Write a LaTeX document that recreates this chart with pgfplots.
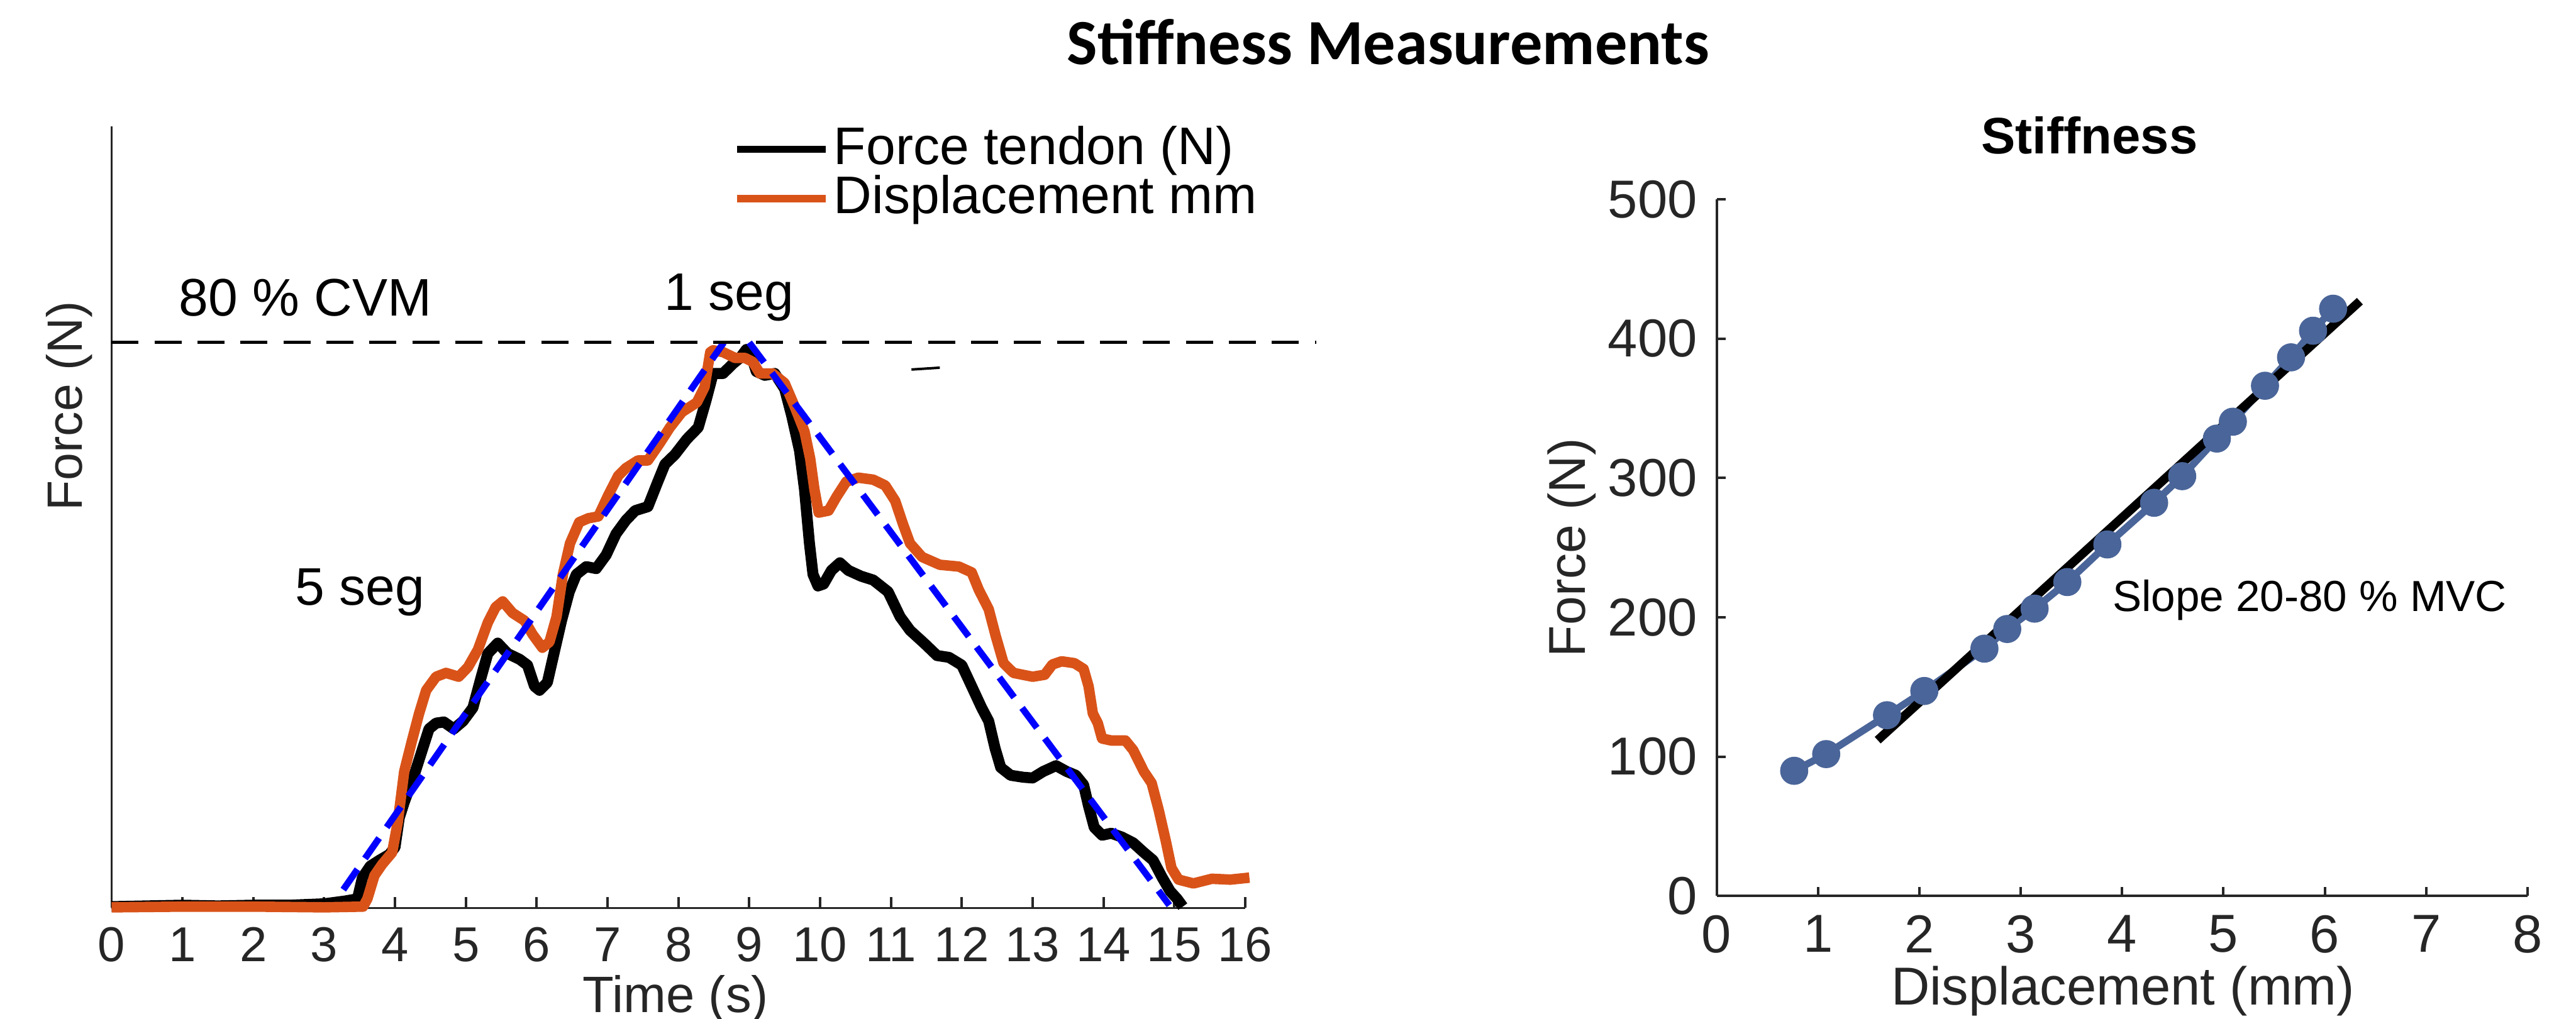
\documentclass[border=0pt]{standalone}
\usepackage{pgfplots}
\pgfplotsset{compat=1.18}
\usepackage{fontspec}
\setmainfont{Liberation Sans}
\newfontfamily\carlito{Carlito}
\definecolor{mgray}{rgb}{0.15,0.15,0.15}
\definecolor{morange}{rgb}{0.85,0.325,0.098}
\definecolor{mpts}{RGB}{74,101,153}
\newcommand{\fs}[1]{\fontsize{#1}{#1}\selectfont}
\begin{document}
\begin{tikzpicture}
\useasboundingbox (0,0) rectangle (467.6pt,185pt);
\node[anchor=base, inner sep=0, font=\carlito\bfseries\fs{11.7}] at (252pt,173.3pt) {Stiffness Measurements};

\begin{axis}[
  at={(20.26pt,20.1pt)}, anchor=south west,
  scale only axis, width=205.76pt, height=141.9pt,
  xmin=0, xmax=16, ymin=0, ymax=552.7,
  axis lines=left, axis line style={-, mgray, line width=0.45pt},
  xtick={0,1,...,16}, ytick=\empty,
  tick align=inside, major tick length=2pt,
  every tick/.style={mgray, line width=0.45pt},
  xticklabel style={font=\fs{8.9}, text=mgray},
  /pgf/number format/assume math mode=true,
  clip=false,
  legend style={draw=none, fill=none, at={(0.5475,1.004)}, anchor=north west,
    inner sep=0pt, column sep=0.6pt, row sep=0pt, font=\fs{9.6},
    nodes={inner sep=0.25pt, text=black}},
  legend cell align=left,
  legend image code/.code={\draw[#1, line width=1.3pt] (0pt,0pt) -- (16.1pt,0pt);},
]
\addplot[black, line width=2.0pt, line join=round] coordinates {
(0,1) (0.5,1.5) (1,2) (1.5,1.5) (2,2) (2.5,2) (3,3) (3.3,5) (3.47,6.5) (3.54,21.5) (3.65,29.6) (3.78,33.8) (3.92,37.9) (4.0,43) (4.06,63.8) (4.13,74.8) (4.27,93.9) (4.41,115.8) (4.48,126.7) (4.58,130.8) (4.69,131.6) (4.83,126.7) (4.96,132.2) (5.10,141.7) (5.21,162.2) (5.31,180) (5.45,187.4) (5.59,180) (5.76,175.9) (5.87,171.8) (5.97,156.8) (6.04,154) (6.15,159.5) (6.25,181.4) (6.35,203.2) (6.46,223.7) (6.56,236) (6.70,241.5) (6.84,240.1) (6.98,249.7) (7.12,264.7) (7.26,274.3) (7.39,281.1) (7.57,283.9) (7.71,301.6) (7.81,313.9) (7.95,320.7) (8.12,331.7) (8.28,339.9) (8.39,359) (8.49,378.1) (8.63,378.1) (8.77,385) (8.87,389.1) (8.96,395.1) (9.03,390.4) (9.10,379.5) (9.22,376.8) (9.36,378.1) (9.50,367.2) (9.60,348.1) (9.71,323.5) (9.78,296.1) (9.85,257.9) (9.90,236) (9.97,227.8) (10.05,229.2) (10.16,238.8) (10.28,244.2) (10.40,238.8) (10.58,234.7) (10.75,232) (10.96,223.7) (11.13,206) (11.27,196.4) (11.48,186.8) (11.65,178.6) (11.82,177.3) (12.0,171.8) (12.14,156.8) (12.28,141.7) (12.38,132.2) (12.47,113) (12.55,99.4) (12.69,93.9) (12.87,92.5) (13.0,92) (13.15,96.6) (13.33,100.7) (13.48,96.6) (13.61,93.9) (13.72,87.1) (13.79,72) (13.87,57) (13.98,51.5) (14.11,52.9) (14.26,50.2) (14.42,46.1) (14.57,39.3) (14.70,33.8) (14.83,21.5) (14.94,12) (15.04,6.5) (15.12,1)
};
\addlegendentry{Force tendon (N)}
\addplot[morange, line width=1.9pt, line join=round] coordinates {
(0,0.5) (1,1) (2,1) (3,0.5) (3.55,1) (3.61,6.5) (3.71,23) (3.82,31) (3.96,39.3) (4.04,61.1) (4.13,96.6) (4.24,118.5) (4.34,137.6) (4.44,154) (4.58,163.6) (4.72,166.3) (4.90,163.6) (5.03,170.4) (5.17,182.7) (5.31,201.9) (5.42,212.8) (5.52,216.9) (5.66,208.7) (5.83,203.2) (5.94,193.7) (6.08,184.1) (6.18,188.2) (6.28,206) (6.37,236) (6.47,257.9) (6.60,272.9) (6.73,275.7) (6.87,277) (7.01,292) (7.15,305.7) (7.26,311.2) (7.43,316.6) (7.57,316.6) (7.74,329) (7.88,339.9) (8.05,350.8) (8.26,357.6) (8.37,368.6) (8.45,393.2) (8.49,394.5) (8.63,393.2) (8.80,389.1) (8.94,389.1) (9.05,386.3) (9.15,378.1) (9.33,378.1) (9.50,371.3) (9.64,354.9) (9.78,337.1) (9.86,318) (9.92,296.1) (9.98,279.7) (10.12,281.1) (10.23,290.7) (10.37,301.6) (10.54,304.4) (10.75,303) (10.92,298.9) (11.06,288) (11.17,271.6) (11.27,257.9) (11.44,248.3) (11.69,242.8) (11.96,241.5) (12.14,237.4) (12.24,225.1) (12.38,211.4) (12.48,192.3) (12.59,173.2) (12.73,166.3) (13.0,163.6) (13.17,165) (13.28,172.3) (13.41,174.5) (13.59,173.2) (13.72,169.1) (13.79,156.8) (13.85,137.6) (13.92,130.8) (13.98,119.9) (14.11,118.5) (14.31,118.5) (14.42,111.7) (14.57,96.6) (14.68,88.4) (14.78,69.3) (14.88,47.4) (14.96,28.3) (15.06,20.1) (15.27,17.4) (15.53,20.7) (15.79,20.1) (16.06,21.5)
};
\addlegendentry{Displacement mm}
\addplot[blue, line width=1.2pt, dash pattern=on 4.5pt off 2.4pt, forget plot] coordinates {(3.27,13) (8.64,400)};
\addplot[blue, line width=1.2pt, dash pattern=on 4.5pt off 2.4pt, forget plot] coordinates {(9.0,400) (14.93,2)};
\addplot[black, line width=0.55pt, dash pattern=on 4.9pt off 2.9pt, forget plot] coordinates {(0,400) (17.0,400)};
\addplot[black, line width=0.45pt, forget plot] coordinates {(11.29,380.9) (11.69,382.2)};
\node[anchor=base west, inner sep=0, font=\fs{9.6}] at (axis cs:0.935,419) {80 \% CVM};
\node[anchor=base west, inner sep=0, font=\fs{9.6}] at (axis cs:7.79,423) {1 seg};
\node[anchor=base west, inner sep=0, font=\fs{9.6}] at (axis cs:2.575,214.2) {5 seg};
\node[anchor=base, inner sep=0, font=\fs{9.3}, text=mgray] at (axis cs:7.96,-74) {Time (s)};
\node[rotate=90, inner sep=0, font=\fs{9}, text=mgray] at (axis cs:-0.6,355) {Force (N)};
\end{axis}

\begin{axis}[
  at={(311.6pt,22.3pt)}, anchor=south west,
  scale only axis, width=147.2pt, height=126.5pt,
  xmin=0, xmax=8, ymin=0, ymax=500,
  axis lines=left, axis line style={-, mgray, line width=0.45pt},
  xtick={0,1,...,8}, ytick={0,100,...,500},
  tick align=inside, major tick length=1.6pt,
  every tick/.style={mgray, line width=0.45pt},
  ticklabel style={font=\fs{9.7}, text=mgray},
  /pgf/number format/assume math mode=true,
  clip=false,
]
\addplot[mpts, line width=1.3pt, mark=*, mark size=1.9pt, mark options={fill=mpts, draw=mpts}] coordinates {
(0.765,89.8) (1.081,101.8) (1.681,129.7) (2.049,147.1) (2.642,177.5) (2.867,191.6) (3.137,206.2) (3.460,225.3) (3.855,252.3) (4.316,282.2) (4.593,301.3) (4.935,328.3) (5.093,340.4) (5.410,366.2) (5.667,386.6) (5.884,405.7) (6.082,421.5)
};
\addplot[black, line width=1.6pt] coordinates {(1.589,111.8) (6.346,426.9)};
\node[anchor=base west, inner sep=0, font=\fs{7.9}] at (axis cs:3.895,204.5) {Slope 20-80 \% MVC};
\node[anchor=base, inner sep=0, font=\bfseries\fs{9.3}] at (axis cs:3.679,532.8) {Stiffness};
\node[anchor=base, inner sep=0, font=\fs{9.7}, text=mgray] at (axis cs:4.01,-78.3) {Displacement (mm)};
\node[rotate=90, inner sep=0, font=\fs{9.4}, text=mgray] at (axis cs:-1.43,250) {Force (N)};
\end{axis}
\end{tikzpicture}
\end{document}
